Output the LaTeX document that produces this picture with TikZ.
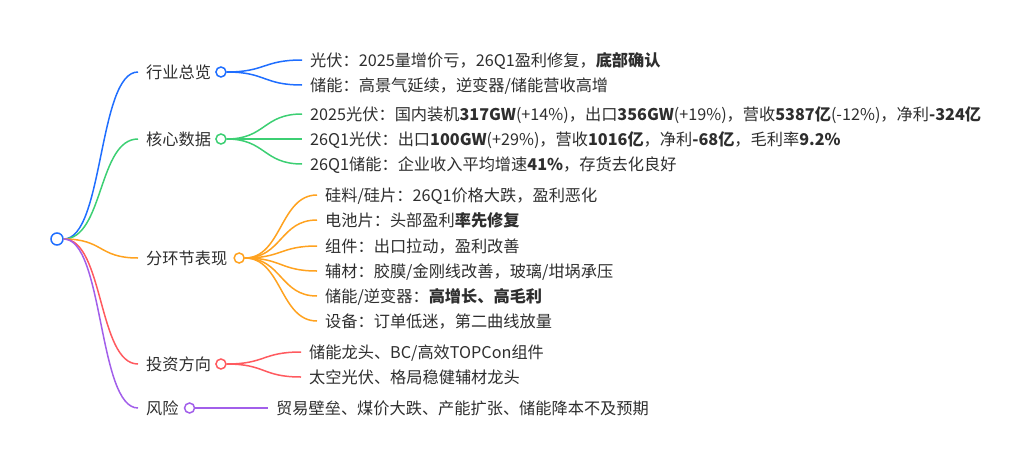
\documentclass[tikz,border=0pt]{standalone}
\usepackage{fontspec}
\setmainfont{Noto Sans CJK SC}
\usepackage{xcolor}
\usepackage{tikz}
\usetikzlibrary{positioning, calc}

\definecolor{cblue}{HTML}{1F6EFF}
\definecolor{cgreen}{HTML}{3CCF73}
\definecolor{corange}{HTML}{FFA21F}
\definecolor{cred}{HTML}{FF5A5F}
\definecolor{cpurple}{HTML}{A25FEA}
\definecolor{txtgray}{HTML}{2E2E2E}

\begin{document}
\begin{tikzpicture}[x=1pt, y=-1pt, font=\fontsize{16.2}{19}\selectfont, txt/.style={anchor=west, inner xsep=8pt, inner ysep=0pt, text=txtgray, text height=12pt, text depth=0pt}, dot/.style={circle, draw=#1, fill=white, line width=1.5pt, minimum size=10pt, inner sep=0pt}, ln/.style={draw=#1, line width=1.5pt}]
\useasboundingbox (0,0) rectangle (1024,466);
% root
\node[dot=cblue, minimum size=12pt] (root) at (57,239) {};
% first level
\node[txt] (hy) at (138,72) {行业总览};
\node[txt] (hx) at (138,139) {核心数据};
\node[txt] (fh) at (138,258) {分环节表现};
\node[txt] (tz) at (138,364) {投资方向};
\node[txt] (fx) at (138,408) {风险};
\draw[ln=cblue] (root.east) .. controls +(40,0) and +(-40,0) .. (hy.west);
\draw[ln=cgreen] (root.east) .. controls +(40,0) and +(-40,0) .. (hx.west);
\draw[ln=corange] (root.east) .. controls +(40,0) and +(-40,0) .. (fh.west);
\draw[ln=cred] (root.east) .. controls +(40,0) and +(-40,0) .. (tz.west);
\draw[ln=cpurple] (root.east) .. controls +(40,0) and +(-40,0) .. (fx.west);
\node[dot=cblue] (hyo) [right=-4pt of hy] {};
\node[dot=cgreen] (hxo) [right=-4pt of hx] {};
\node[dot=corange] (fho) [right=-2pt of fh] {};
\node[dot=cred] (tzo) [right=-4pt of tz] {};
\node[dot=cpurple] (fxo) [right=-3pt of fx] {};
% second level
\foreach \y/\t [count=\i] in {60/{光伏：2025量增价亏，26Q1盈利修复，\textbf{底部确认}}, 85/{储能：高景气延续，逆变器/储能营收高增}}
{
\node[txt] (hy\i) at (302,\y) {\t};
\draw[ln=cblue] (hyo.east) .. controls +(39,0) and +(-39,0) .. (hy\i.west);
}
\foreach \y/\t [count=\i] in {114/{2025光伏：国内装机\textbf{317GW}(+14\%)，出口\textbf{356GW}(+19\%)，营收\textbf{5387亿}(-12\%)，净利\textbf{-324亿}}, 139/{26Q1光伏：出口\textbf{100GW}(+29\%)，营收\textbf{1016亿}，净利\textbf{-68亿}，毛利率\textbf{9.2\%}}, 164/{26Q1储能：企业收入平均增速\textbf{41\%}，存货去化良好}}
{
\node[txt] (hx\i) at (302,\y) {\t};
\draw[ln=cgreen] (hxo.east) .. controls +(39,0) and +(-39,0) .. (hx\i.west);
}
\foreach \y/\t [count=\i] in {195/{硅料/硅片：26Q1价格大跌，盈利恶化}, 220/{电池片：头部盈利\textbf{率先修复}}, 246/{组件：出口拉动，盈利改善}, 271/{辅材：胶膜/金刚线改善，玻璃/坩埚承压}, 296/{储能/逆变器：\textbf{高增长、高毛利}}, 321/{设备：订单低迷，第二曲线放量}}
{
\node[txt] (fh\i) at (317,\y) {\t};
\draw[ln=corange] (fho.east) .. controls +(37,0) and +(-37,0) .. (fh\i.west);
}
\foreach \y/\t [count=\i] in {352/{储能龙头、BC/高效TOPCon组件}, 377/{太空光伏、格局稳健辅材龙头}}
{
\node[txt] (tz\i) at (301,\y) {\t};
\draw[ln=cred] (tzo.east) .. controls +(39,0) and +(-39,0) .. (tz\i.west);
}
\node[txt] (fx1) at (268,408) {贸易壁垒、煤价大跌、产能扩张、储能降本不及预期};
\draw[ln=cpurple] (fxo.east) -- (fx1.west);
\end{tikzpicture}
\end{document}
